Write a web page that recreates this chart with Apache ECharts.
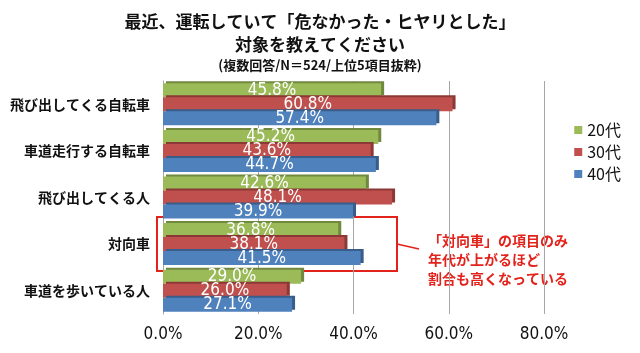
<!DOCTYPE html>
<html>
<head>
<meta charset="utf-8">
<script src="https://cdn.jsdelivr.net/npm/echarts@6/dist/echarts.min.js"></script>
<style>
    html, body { margin: 0; padding: 0; background: #fff; }
    #chart { width: 640px; height: 353px; }
</style>
</head>
<body>
<div id="chart"></div>
<script>
var categories = ["飛び出してくる自転車", "車道走行する自転車", "飛び出してくる人", "対向車", "車道を歩いている人"];
var ageNames = ["20代", "30代", "40代"];
var values20 = [45.8, 45.2, 42.6, 36.8, 29.0];
var values30 = [60.8, 43.6, 48.1, 38.1, 26.0];
var values40 = [57.4, 44.7, 39.9, 41.5, 27.1];
var xTicks = [0, 20, 40, 60, 80];

var colors = ["#9bbb59", "#c0504d", "#4f81bd"];
var sideColors = ["#71893f", "#8c3836", "#385d8a"];
var jpFont = '"Noto Sans CJK JP", sans-serif';
var numFont = '"Liberation Sans Narrow", "DejaVu Sans Condensed", sans-serif';

var chart = echarts.init(document.getElementById("chart"));

function makeSeries(name, data, i) {
    return {
        name: name,
        type: "bar",
        data: data,
        barWidth: 14,
        barGap: "0%",
        itemStyle: {
            color: colors[i],
            shadowColor: sideColors[i],
            shadowOffsetX: 3,
            shadowOffsetY: -2,
            shadowBlur: 0,
        },
        label: {
            show: true,
            position: "inside",
            formatter: function (p) {
                return p.value.toFixed(1) + "%";
            },
            color: "#fff",
            fontSize: 17,
            fontFamily: numFont,
        },
    };
}

var option = {
    animation: false,
    textStyle: { fontFamily: jpFont },
    title: [
        {
            text: "最近、運転していて「危なかった・ヒヤリとした」\n対象を教えてください",
            left: "center",
            top: 5,
            textStyle: { fontSize: 17, fontWeight: "bold", color: "#111", lineHeight: 23, fontFamily: jpFont },
        },
        {
            text: "(複数回答/N＝524/上位5項目抜粋)",
            left: "center",
            top: 54,
            textStyle: { fontSize: 13, fontWeight: "bold", color: "#111", fontFamily: jpFont },
        },
    ],
    legend: {
        data: ageNames,
        orient: "vertical",
        right: 14,
        top: 117,
        itemWidth: 8,
        itemHeight: 8,
        itemGap: 6,
        icon: "rect",
        textStyle: { fontSize: 16, color: "#111", fontFamily: jpFont },
    },
    grid: {
        left: 163,
        right: 96,
        top: 81,
        bottom: 39,
    },
    xAxis: {
        type: "value",
        min: xTicks[0],
        max: xTicks[xTicks.length - 1],
        interval: 20,
        axisLine: { show: false },
        axisTick: { show: false },
        splitLine: { show: true, lineStyle: { color: "#a6a6a6" } },
        axisLabel: {
            formatter: function (v) {
                return v.toFixed(1) + "%";
            },
            fontSize: 17,
            color: "#111",
            fontFamily: numFont,
            margin: 12,
        },
    },
    yAxis: {
        type: "category",
        data: categories,
        inverse: true,
        axisLine: { show: true, lineStyle: { color: "#a6a6a6" } },
        axisTick: { show: false },
        axisLabel: {
            fontSize: 14,
            fontWeight: "bold",
            color: "#111",
            margin: 13,
            fontFamily: jpFont,
        },
    },
    graphic: [
        {
            type: "rect",
            shape: { x: 157, y: 217, width: 240, height: 54 },
            style: { fill: "none", stroke: "#e3221b", lineWidth: 2 },
        },
        {
            type: "line",
            shape: { x1: 397, y1: 244, x2: 419, y2: 249 },
            style: { stroke: "#e3221b", lineWidth: 1.5 },
        },
        {
            type: "text",
            left: 428,
            top: 231,
            style: {
                text: "「対向車」の項目のみ\n年代が上がるほど\n割合も高くなっている",
                fill: "#e3221b",
                font: 'bold 14px "Noto Sans CJK JP", sans-serif',
                lineHeight: 19,
            },
        },
    ],
    series: [
        makeSeries(ageNames[0], values20, 0),
        makeSeries(ageNames[1], values30, 1),
        makeSeries(ageNames[2], values40, 2),
    ],
};

chart.setOption(option);
</script>
</body>
</html>
